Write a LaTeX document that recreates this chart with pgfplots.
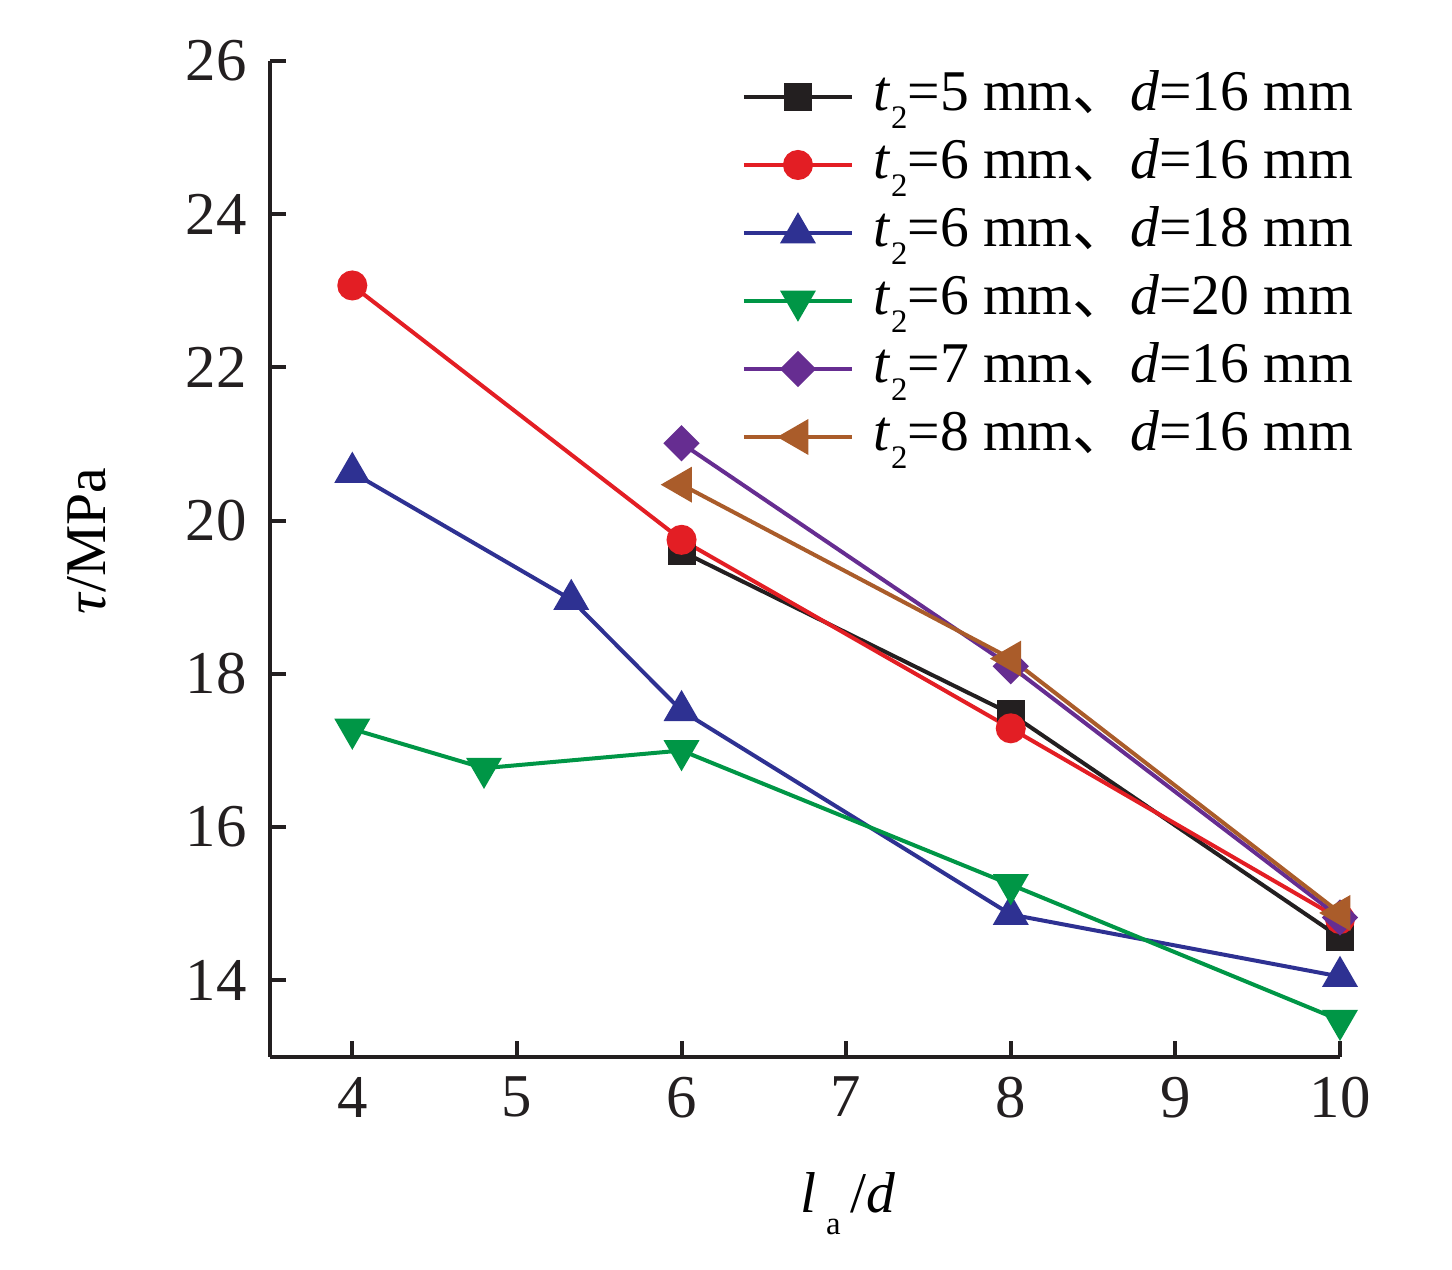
\documentclass[border=0pt]{standalone}
\usepackage{fontspec}
\setmainfont{Liberation Serif}
\newfontfamily\cjk{Noto Sans CJK SC}
\usepackage{pgfplots}
\pgfplotsset{compat=1.18}

\definecolor{cblack}{RGB}{35,31,32}
\definecolor{cred}{RGB}{227,30,36}
\definecolor{cblue}{RGB}{46,49,146}
\definecolor{cgreen}{RGB}{0,150,70}
\definecolor{cpurple}{RGB}{102,45,145}
\definecolor{cbrown}{RGB}{170,92,42}

\newcommand{\mysub}[2]{\raisebox{#1}[0pt][0pt]{\fontsize{8.2}{8.2}\selectfont #2}}
\newcommand{\leg}[2]{\textit{t}\mysub{-4.5pt}{2}=#1 mm{\cjk 、}\textit{d}=#2 mm}

\begin{document}
\begin{tikzpicture}[font=\fontsize{14.4}{17}\selectfont]
\begin{axis}[
  scale only axis, width=267.5pt, height=249pt,
  xmin=3.5, xmax=10, ymin=13, ymax=26,
  axis lines=left,
  axis line style={-, line width=1pt, cblack},
  xtick={4,5,6,7,8,9,10}, ytick={14,16,18,20,22,24,26},
  tick align=inside, major tick length=4pt,
  tick style={line width=1pt, cblack},
  /pgf/number format/assume math mode=true,
  ticklabel style={font=\fontsize{15.2}{18}\selectfont, text=cblack},
  yticklabel style={xshift=-2.3pt},
  xticklabel style={yshift=-1.5pt},
  xlabel={\textit{l}\,\mysub{-5.5pt}{a}\,/\textit{d}},
  ylabel={\textit{τ}/MPa},
  xlabel style={at={(axis description cs:0.540,-0.1566)}, anchor=base},
  ylabel style={at={(axis description cs:-0.154,0.518)}, anchor=base},
  clip=false,
  legend cell align=left,
  legend style={at={(axis description cs:0.4411,0.998)}, anchor=north west,
    draw=none, fill=none, inner sep=0pt, outer sep=0pt, row sep=0pt, column sep=5pt,
    nodes={inner sep=0pt, text height=12pt, text depth=5pt}},
  legend image code/.code={\draw[mark repeat=2,mark phase=2] plot coordinates {(0pt,0pt) (13.5pt,0pt) (27pt,0pt)};},
]
\coordinate (O) at (rel axis cs:0,0);
\addplot[color=cblack, line width=1pt, mark=square*, mark size=3pt] coordinates {(6,19.6) (8,17.48) (10,14.56)};
\addlegendentry{\leg{5}{16}}
\addplot[color=cred, line width=1pt, mark=*, mark size=3.25pt] coordinates {(4,23.07) (6,19.75) (8,17.29) (10,14.8)};
\addlegendentry{\leg{6}{16}}
\addplot[color=cblue, line width=1pt, mark=triangle*, mark size=4.2pt] coordinates {(4,20.63) (5.33,18.97) (6,17.52) (8,14.86) (10,14.05)};
\addlegendentry{\leg{6}{18}}
\addplot[color=cgreen, line width=1pt, mark=triangle*, mark size=4.2pt, mark options={rotate=180}] coordinates {(4,17.28) (4.8,16.77) (6,17.0) (8,15.25) (10,13.48)};
\addlegendentry{\leg{6}{20}}
\addplot[color=cpurple, line width=1pt, mark=square*, mark size=2.7pt, mark options={rotate=45}] coordinates {(6,21.01) (8,18.1) (10,14.82)};
\addlegendentry{\leg{7}{16}}
\addplot[color=cbrown, line width=1pt, mark=triangle*, mark size=4.2pt, mark options={rotate=90}] coordinates {(6,20.47) (8,18.2) (10,14.88)};
\addlegendentry{\leg{8}{16}}
\end{axis}
\pgfresetboundingbox
\path (O) ++(-67.5pt,-53.25pt) rectangle ++(363pt,317.5pt);
\end{tikzpicture}
\end{document}
